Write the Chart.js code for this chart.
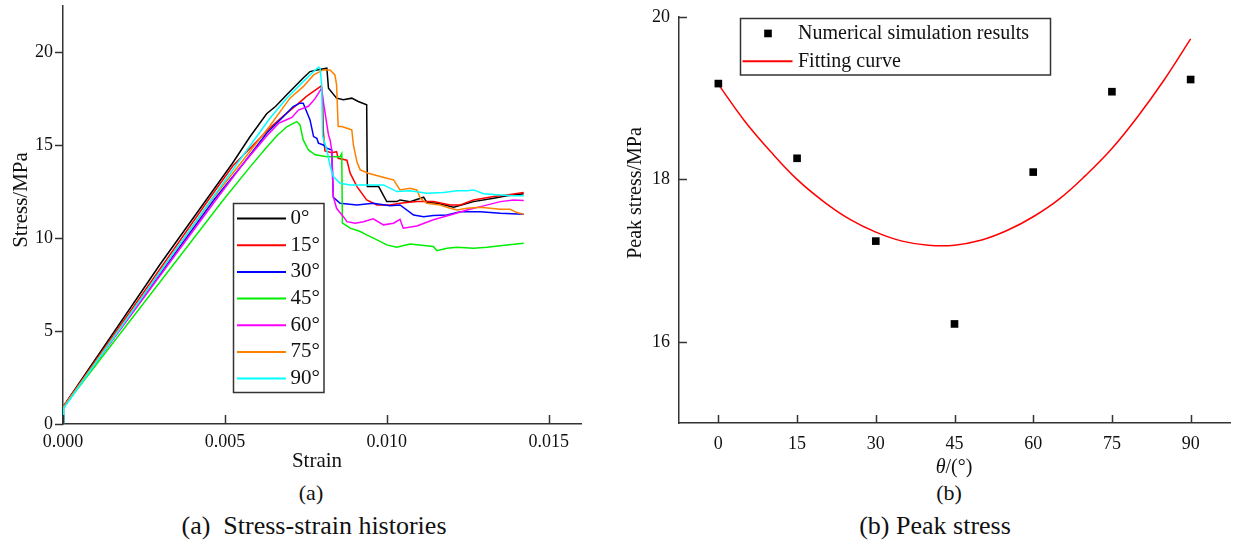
<!DOCTYPE html>
<html>
<head>
<meta charset="utf-8">
<script src="https://cdn.jsdelivr.net/npm/chart.js@4.4.0/dist/chart.umd.min.js"></script>
<style>
  html, body { margin: 0; padding: 0; background: #fff; }
  #page { position: relative; width: 1238px; height: 545px; overflow: hidden;
          font-family: 'Liberation Serif', 'Times New Roman', serif; color: #111; }
  canvas { position: absolute; top: 0; }
  #chartA { left: 0; }
  #chartB { left: 610px; }
  .cap { position: absolute; transform: translate(-50%, -50%); white-space: nowrap; line-height: 1; }
</style>
</head>
<body>
<div id="page">
  <canvas id="chartA" width="600" height="480"></canvas>
  <canvas id="chartB" width="628" height="480"></canvas>
  <div class="cap" style="left:311px; top:493px; font-size:22px;">(a)</div>
  <div class="cap" style="left:314px; top:526px; font-size:26px;">(a)&nbsp; Stress-strain histories</div>
  <div class="cap" style="left:949px; top:493px; font-size:22px;">(b)</div>
  <div class="cap" style="left:935px; top:526px; font-size:26px;">(b) Peak stress</div>
</div>
<script>
// ---- data: (a) stress-strain histories, strain in 1e-3, stress in MPa ----
const angleLabels = ['0°', '15°', '30°', '45°', '60°', '75°', '90°'];
const curve0 = [[0,0],[0.01,0.95],[3.0,8.6],[5.24,14.05],[5.77,15.45],[6.29,16.7],[6.57,17.1],[6.91,17.72],[7.42,18.62],[7.63,18.97],[7.84,19.06],[8.15,19.15],[8.2,18.08],[8.45,17.54],[8.66,17.45],[8.92,17.54],[9.12,17.36],[9.38,17.18],[9.4,12.78],[9.75,12.78],[10.0,11.97],[10.31,11.97],[10.41,12.06],[10.72,11.97],[11.14,12.21],[11.24,11.92],[11.55,11.88],[12.07,11.67],[12.68,11.97],[13.3,12.15],[13.71,12.28],[14.23,12.39]];
const curve15 = [[0,0],[0.01,0.93],[4.49,12.06],[5.25,13.9],[5.81,14.9],[6.37,15.9],[6.82,16.6],[7.22,17.18],[7.53,17.65],[7.98,18.2],[8.02,17.5],[8.04,15.8],[8.09,14.7],[8.3,14.6],[8.45,14.66],[8.5,14.3],[8.77,14.2],[8.87,13.5],[9.08,12.78],[9.38,12.06],[9.7,11.79],[10.1,11.79],[10.41,11.88],[10.93,11.97],[11.44,11.97],[11.96,11.79],[12.27,11.79],[12.68,12.06],[13.3,12.24],[13.71,12.33],[14.23,12.46]];
const curve30 = [[0,0],[0.01,0.93],[4.66,12.06],[5.56,14.0],[6.29,15.65],[6.81,16.55],[7.11,17.09],[7.32,17.27],[7.42,17.27],[7.63,16.37],[7.74,15.47],[7.84,15.38],[7.89,15.12],[8.04,15.02],[8.15,14.85],[8.3,14.75],[8.35,12.2],[8.56,11.88],[9.08,11.79],[9.58,11.88],[10.1,11.75],[10.41,11.79],[10.83,11.25],[11.14,11.16],[11.44,11.22],[11.86,11.25],[12.27,11.43],[12.89,11.43],[13.51,11.34],[14.23,11.29]];
const curve45 = [[0,0],[0.01,0.9],[4.95,12.06],[5.76,13.8],[6.29,14.9],[6.6,15.5],[6.91,16.0],[7.22,16.28],[7.32,16.1],[7.42,15.29],[7.58,14.75],[7.79,14.49],[8.15,14.39],[8.56,14.39],[8.61,14.55],[8.63,10.81],[8.72,10.72],[8.87,10.54],[9.18,10.36],[9.38,10.18],[9.7,9.91],[10.0,9.64],[10.31,9.51],[10.72,9.69],[11.44,9.55],[11.55,9.33],[11.86,9.46],[12.17,9.51],[12.68,9.46],[13.1,9.51],[13.71,9.64],[14.23,9.73]];
const curve60 = [[0,0],[0.01,0.93],[4.72,12.06],[5.56,14.0],[6.29,15.5],[6.67,16.2],[6.87,16.35],[7.07,16.5],[7.27,16.9],[7.58,17.1],[7.78,17.5],[7.99,18.08],[8.04,17.36],[8.2,15.56],[8.25,15.29],[8.3,14.75],[8.35,12.24],[8.45,11.61],[8.66,11.16],[8.77,10.89],[9.02,10.81],[9.28,10.89],[9.58,11.04],[9.9,10.72],[10.21,10.81],[10.41,11.02],[10.51,10.54],[10.93,10.66],[11.44,10.99],[11.96,11.25],[12.48,11.52],[12.99,11.74],[13.51,11.97],[13.92,12.06],[14.23,12.03]];
const curve75 = [[0,0],[0.01,0.93],[4.59,12.06],[5.56,14.2],[6.37,16.0],[7.01,17.54],[7.42,18.16],[7.74,18.79],[8.04,19.06],[8.25,19.06],[8.4,18.79],[8.45,18.26],[8.5,16.01],[8.61,16.01],[8.77,15.92],[8.92,15.83],[8.97,15.02],[9.08,14.1],[9.18,13.68],[9.43,13.5],[9.8,13.32],[10.0,13.23],[10.21,13.14],[10.41,12.6],[10.72,12.69],[10.93,12.6],[11.04,12.15],[11.24,11.88],[11.65,11.79],[11.96,11.61],[12.17,11.52],[12.48,11.61],[12.89,11.67],[13.51,11.56],[13.81,11.56],[14.02,11.38],[14.23,11.29]];
const curve90 = [[0,0],[0.02,0.85],[4.57,12.06],[6.39,16.46],[6.91,17.54],[7.42,18.43],[7.74,18.97],[7.89,19.21],[7.94,19.15],[7.99,18.26],[8.02,15.5],[8.15,14.75],[8.25,13.9],[8.35,13.32],[8.56,12.96],[8.87,12.87],[9.18,12.87],[9.49,12.87],[9.9,12.87],[10.31,12.51],[10.72,12.56],[11.24,12.42],[11.75,12.46],[12.17,12.55],[12.48,12.56],[12.68,12.6],[12.99,12.39],[13.51,12.33],[13.92,12.28],[14.23,12.28]];
const strainTicks = [0, 0.005, 0.010, 0.015];
const stressTicks = [0, 5, 10, 15, 20];

// ---- data: (b) peak stress ----
const angles = [0, 15, 30, 45, 60, 75, 90];
const peakStress = [19.18, 18.26, 17.24, 16.22, 18.09, 19.08, 19.23];
const fitAngles = [0, 5, 10, 15, 20, 25, 30, 35, 40, 45, 50, 55, 60, 65, 70, 75, 80, 85, 90];
const fitStress = [19.17, 18.72, 18.34, 18.0, 17.73, 17.51, 17.35, 17.24, 17.19, 17.19, 17.25, 17.37, 17.54, 17.76, 18.05, 18.38, 18.78, 19.23, 19.73];
const angleTicks = [0, 15, 30, 45, 60, 75, 90];
const peakTicks = [16, 18, 20];

const curves = [curve0, curve15, curve30, curve45, curve60, curve75, curve90];
const lineColors = ['#000000', '#ff0000', '#0000ff', '#00ee00', '#ff00ff', '#ff8000', '#00ffff'];
const SERIF = "'Liberation Serif', 'Times New Roman', serif";
const AXIS = '#333';

// tick marks drawn by hand so they can point into the plot
function tickMarks(cfg) {
    return {
        id: 'tickMarks',
        afterDraw(chart) {
            const ctx = chart.ctx;
            ctx.save();
            ctx.strokeStyle = AXIS;
            ctx.lineWidth = 1.5;
            Object.keys(cfg).forEach(id => {
                const s = chart.scales[id];
                const c = cfg[id];
                s.ticks.forEach(t => {
                    const p = Math.round(s.getPixelForValue(t.value)) + 0.5;
                    ctx.beginPath();
                    if (s.isHorizontal()) {
                        const y0 = s.top;
                        ctx.moveTo(p, y0);
                        ctx.lineTo(p, c.inward ? y0 - c.len : y0 + c.len);
                    } else {
                        const x0 = s.right;
                        ctx.moveTo(x0, p);
                        ctx.lineTo(c.inward ? x0 + c.len : x0 - c.len, p);
                    }
                    ctx.stroke();
                });
            });
            ctx.restore();
        }
    };
}

function axisTitles(items) {
    return {
        id: 'axisTitles',
        afterDraw(chart) {
            const ctx = chart.ctx;
            ctx.save();
            ctx.fillStyle = '#111';
            ctx.textBaseline = 'middle';
            items.forEach(it => {
                ctx.save();
                ctx.translate(it.x, it.y);
                if (it.rot) ctx.rotate(it.rot);
                const parts = it.parts;
                let total = 0;
                parts.forEach(p => { ctx.font = p.font; total += ctx.measureText(p.text).width; });
                let x = -total / 2;
                ctx.textAlign = 'left';
                parts.forEach(p => {
                    ctx.font = p.font;
                    ctx.fillText(p.text, x, 0);
                    x += ctx.measureText(p.text).width;
                });
                ctx.restore();
            });
            ctx.restore();
        }
    };
}

function boxLegend(o) {
    return {
        id: 'boxLegend',
        afterDraw(chart) {
            const ctx = chart.ctx;
            ctx.save();
            ctx.fillStyle = '#fff';
            ctx.fillRect(o.x, o.y, o.w, o.h);
            ctx.strokeStyle = AXIS;
            ctx.lineWidth = 1.5;
            ctx.strokeRect(o.x, o.y, o.w, o.h);
            ctx.font = o.font;
            ctx.textBaseline = 'middle';
            chart.data.datasets.forEach((ds, i) => {
                const cy = o.y + o.top + o.rowH * (i + 0.5);
                if (ds.showLine === false) {
                    const half = ds.pointRadius * Math.SQRT1_2;
                    ctx.fillStyle = ds.backgroundColor;
                    ctx.fillRect(o.x + o.mark - half, cy - half, 2 * half, 2 * half);
                } else {
                    ctx.strokeStyle = ds.borderColor;
                    ctx.lineWidth = 2;
                    ctx.beginPath();
                    ctx.moveTo(o.x + o.line0, cy);
                    ctx.lineTo(o.x + o.line1, cy);
                    ctx.stroke();
                }
                ctx.fillStyle = '#111';
                ctx.fillText(ds.label, o.x + o.textX, cy);
            });
            ctx.restore();
        }
    };
}

function setTicks(values) {
    return s => { s.ticks = values.map(v => ({ value: v })); };
}

// ---------------- chart (a) ----------------
new Chart(document.getElementById('chartA'), {
    type: 'scatter',
    data: {
        datasets: curves.map((c, i) => ({
            label: angleLabels[i],
            data: c.map(p => ({ x: p[0] / 1000, y: p[1] })),
            showLine: true,
            borderColor: lineColors[i],
            backgroundColor: lineColors[i],
            borderWidth: 1.5,
            pointRadius: 0,
            tension: 0,
            order: curves.length - i
        }))
    },
    options: {
        responsive: false,
        animation: false,
        devicePixelRatio: 1,
        layout: { padding: { left: 0, right: 19, top: 6, bottom: 0 } },
        plugins: { legend: { display: false }, tooltip: { enabled: false } },
        scales: {
            x: {
                type: 'linear', min: 0, max: 0.016,
                afterBuildTicks: setTicks(strainTicks),
                afterFit(s) { s.height = 56; s.paddingLeft = 0; s.paddingRight = 0; },
                grid: { display: false, drawTicks: false },
                border: { display: true, color: AXIS, width: 1.5 },
                ticks: { padding: 7, color: '#111', font: { family: SERIF, size: 18 },
                         callback: v => v.toFixed(3) }
            },
            y: {
                type: 'linear', min: 0, max: 22.5,
                afterBuildTicks: setTicks(stressTicks),
                afterFit(s) { s.width = 63; s.paddingTop = 0; s.paddingBottom = 0; },
                grid: { display: false, drawTicks: false },
                border: { display: true, color: AXIS, width: 1.5 },
                ticks: { padding: 10, color: '#111', font: { family: SERIF, size: 18 } }
            }
        }
    },
    plugins: [
        tickMarks({ x: { len: 9, inward: true }, y: { len: 8, inward: false } }),
        axisTitles([
            { x: 21, y: 200, rot: -Math.PI / 2, parts: [{ text: 'Stress/MPa', font: `21px ${SERIF}` }] },
            { x: 317, y: 461, parts: [{ text: 'Strain', font: `21px ${SERIF}` }] }
        ]),
        boxLegend({ x: 233.5, y: 203.5, w: 90.5, h: 189, top: 1.7, rowH: 26.67,
                    line0: 3.5, line1: 52.5, textX: 57, font: `21px ${SERIF}` })
    ]
});

// ---------------- chart (b) ----------------
new Chart(document.getElementById('chartB'), {
    type: 'scatter',
    data: {
        datasets: [
            {
                label: 'Numerical simulation results',
                data: angles.map((a, i) => ({ x: a, y: peakStress[i] })),
                showLine: false,
                pointStyle: 'rect',
                pointRadius: 5.4,
                backgroundColor: '#000',
                borderColor: '#000',
                borderWidth: 0,
                order: 0
            },
            {
                label: 'Fitting curve',
                data: fitAngles.map((a, i) => ({ x: a, y: fitStress[i] })),
                showLine: true,
                borderColor: '#ff0000',
                backgroundColor: '#ff0000',
                borderWidth: 1.5,
                pointRadius: 0,
                tension: 0.4,
                order: 1
            }
        ]
    },
    options: {
        responsive: false,
        animation: false,
        devicePixelRatio: 1,
        layout: { padding: { left: 0, right: 8, top: 17, bottom: 0 } },
        plugins: { legend: { display: false }, tooltip: { enabled: false } },
        scales: {
            x: {
                type: 'linear', min: -7.5, max: 97.5,
                afterBuildTicks: setTicks(angleTicks),
                afterFit(s) { s.height = 57; s.paddingLeft = 0; s.paddingRight = 0; },
                grid: { display: false, drawTicks: false },
                border: { display: true, color: AXIS, width: 1.5 },
                ticks: { padding: 10, color: '#111', font: { family: SERIF, size: 18 } }
            },
            y: {
                type: 'linear', min: 15, max: 20,
                afterBuildTicks: setTicks(peakTicks),
                afterFit(s) { s.width = 69; s.paddingTop = 0; s.paddingBottom = 0; },
                grid: { display: false, drawTicks: false },
                border: { display: true, color: AXIS, width: 1.5 },
                ticks: { padding: 9, color: '#111', font: { family: SERIF, size: 18 } }
            }
        }
    },
    plugins: [
        tickMarks({ x: { len: 8, inward: true }, y: { len: 8, inward: true } }),
        axisTitles([
            { x: 26, y: 193, rot: -Math.PI / 2, parts: [{ text: 'Peak stress/MPa', font: `20px ${SERIF}` }] },
            { x: 344, y: 468, parts: [{ text: 'θ', font: `italic 20px ${SERIF}` },
                                      { text: '/(°)', font: `20px ${SERIF}` }] }
        ]),
        boxLegend({ x: 130.5, y: 18.5, w: 310, h: 56.5, top: 1, rowH: 27.9,
                    mark: 27.5, line0: 2, line1: 52, textX: 57.5, font: `20px ${SERIF}` })
    ]
});
</script>
</body>
</html>
